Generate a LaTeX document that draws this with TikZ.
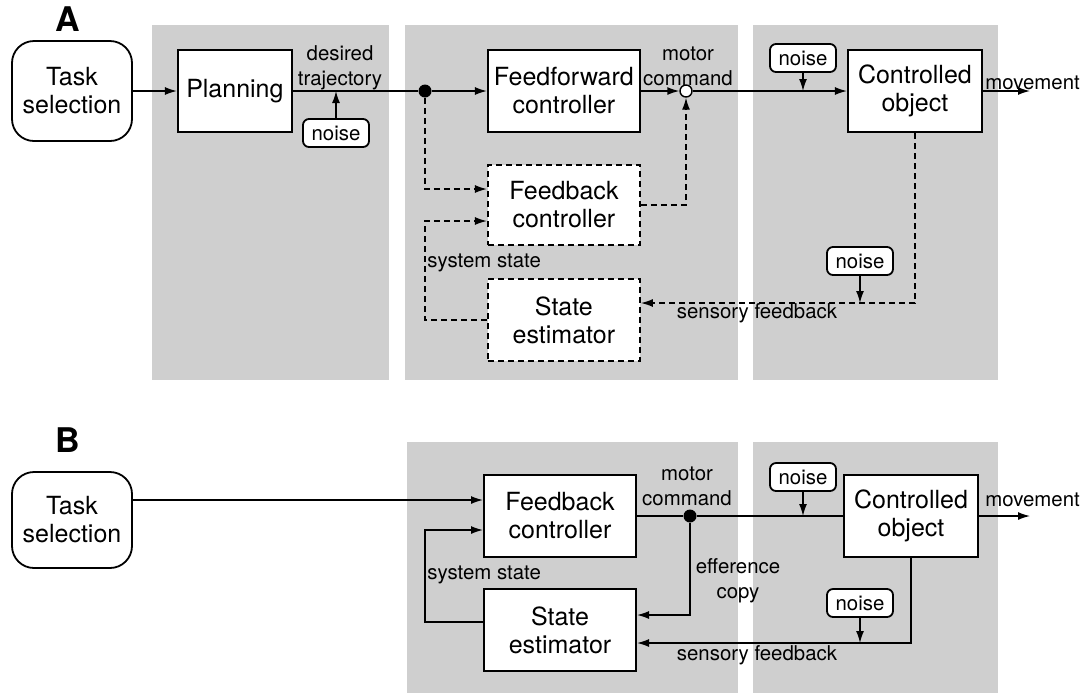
\documentclass[tikz,border=0pt]{standalone}
\usepackage{fontspec}
\setmainfont{TeX Gyre Heros}
\usetikzlibrary{positioning, arrows.meta, calc}
\definecolor{shadegray}{gray}{0.81}

\begin{document}
\begin{tikzpicture}[
  x=0.5pt, y=0.5pt,
  every node/.style={font=\fontsize{12.5}{14}\selectfont},
  blockbox/.style={
    draw, line width=1pt, fill=white, align=center, inner sep=1pt,
    minimum width=76pt, minimum height=41pt
  },
  taskbox/.style={
    draw, line width=0.9pt, fill=white, rounded corners=11pt, align=center,
    minimum width=60pt, minimum height=50pt
  },
  noisebox/.style={
    draw, line width=0.9pt, fill=white, rounded corners=3pt, inner sep=1pt,
    font=\fontsize{10.2}{12}\selectfont, minimum width=33pt, minimum height=14pt
  },
  lbl/.style={font=\fontsize{10.2}{12.4}\selectfont, align=center, inner sep=0pt},
  panel/.style={font=\fontsize{17}{19}\selectfont\bfseries, inner sep=0pt},
  shadebox/.style={fill=shadegray, draw=none},
  arr/.style={-{Latex[length=6pt, width=4pt]}, line width=0.7pt},
  wire/.style={line width=0.7pt},
  dashbox/.style={dash pattern=on 3pt off 2pt},
  dot/.style={circle, fill=black, inner sep=0pt, minimum size=6.5pt},
  odot/.style={circle, draw, fill=white, line width=0.7pt, inner sep=0pt, minimum size=6pt}
]
  \useasboundingbox (0,0) rectangle (1092,-693);

  % shaded stages
  \fill[shadebox] (152,-25) rectangle (389,-380);
  \fill[shadebox] (405,-25) rectangle (738,-380);
  \fill[shadebox] (753,-25) rectangle (998,-380);
  \fill[shadebox] (407,-442) rectangle (738,-693);
  \fill[shadebox] (753,-442) rectangle (998,-693);

  % ---------- panel A ----------
  \node[panel] (labA) at (68,-19) {A};
  \node[taskbox] (taskA) at (72,-91) {Task\\selection};
  \node[blockbox, minimum width=57pt, right=22pt of taskA] (plan) {Planning};
  \node[blockbox, right=97pt of plan] (ff) {Feedforward\\controller};
  \node[blockbox, minimum width=67pt, right=103pt of ff] (coA) {Controlled\\object};
  \node[blockbox, dashbox, minimum height=40pt, below=15.5pt of ff] (fb) {Feedback\\controller};
  \node[blockbox, dashbox, below=16pt of fb] (se) {State\\estimator};

  \node[dot] (jA) at (425,-91) {};
  \node[odot] (sumA) at (686,-91) {};
  \node[noisebox] (nzPlan) at (336,-133) {noise};
  \node[noisebox] (nzCmdA) at (803,-58) {noise};
  \node[noisebox] (nzFbA) at (860,-261) {noise};
  \coordinate (moveA) at (1030,-91);

  \node[lbl] (trajLbl) at (340,-68) {desired\\trajectory};
  \node[lbl] (cmdLblA) at (688,-66) {motor\\command};
  \node[lbl, anchor=west] (moveLblA) at (985,-83) {movement};
  \node[lbl, anchor=west] (stateLblA) at (427,-263) {system state};
  \node[lbl] (sensLblA) at (757,-313) {sensory feedback};

  \draw[arr] (taskA) -- (plan);
  \draw[wire] (plan) -- (jA);
  \draw[arr] (jA) -- (ff);
  \draw[arr] (ff) -- (sumA);
  \draw[arr] (sumA) -- (coA);
  \draw[arr] (coA) -- (moveA);
  \draw[arr] (nzPlan) -- (nzPlan |- plan);
  \draw[arr] (nzCmdA) -- (nzCmdA |- coA);

  \coordinate (fbIn1) at ($(fb.west)+(0,16)$);
  \coordinate (fbIn2) at ($(fb.west)+(0,-16)$);
  \coordinate (seIn) at ($(se.east)+(0,17)$);
  \draw[arr, dashbox] (jA) |- (fbIn1);
  \draw[arr, dashbox] (se.west) -- (jA |- se.west) |- (fbIn2);
  \draw[arr, dashbox] (fb.east) -| (sumA);
  \draw[arr, dashbox] (coA.south) |- (seIn);
  \draw[arr] (nzFbA) -- (nzFbA |- seIn);

  % ---------- panel B ----------
  \node[panel] (labB) at (68,-440) {B};
  \node[taskbox, minimum height=48pt] (taskB) at (72,-520) {Task\\selection};
  \node[blockbox] (fbB) at (560,-516) {Feedback\\controller};
  \node[blockbox, below=15pt of fbB] (seB) {State\\estimator};
  \node[blockbox, minimum width=67pt, right=103pt of fbB] (coB) {Controlled\\object};

  \node[dot] (jB) at (690,-516) {};
  \node[noisebox] (nzCmdB) at (803,-477) {noise};
  \node[noisebox] (nzFbB) at (860,-603) {noise};
  \coordinate (moveB) at (1030,-516);

  \node[lbl] (cmdLblB) at (687,-486) {motor\\command};
  \node[lbl] (effLbl) at (738,-581) {efference\\copy};
  \node[lbl, anchor=west] (moveLblB) at (985,-500) {movement};
  \node[lbl, anchor=west] (stateLblB) at (427,-575) {system state};
  \node[lbl] (sensLblB) at (757,-655) {sensory feedback};

  \coordinate (fbBIn1) at ($(fbB.west)+(0,16)$);
  \coordinate (fbBIn2) at ($(fbB.west)+(0,-14)$);
  \coordinate (seBOut) at ($(seB.west)+(0,8)$);
  \coordinate (seBIn1) at ($(seB.east)+(0,15)$);
  \coordinate (seBIn2) at ($(seB.east)+(0,-13)$);

  \draw[arr] (taskB.east |- fbBIn1) -- (fbBIn1);
  \draw[wire] (fbB) -- (jB) -- (coB);
  \draw[arr] (coB) -- (moveB);
  \draw[arr] (nzCmdB) -- (nzCmdB |- coB);
  \draw[arr] (jB) |- (seBIn1);
  \draw[arr] (seBOut) -- ++(-58,0) |- (fbBIn2);
  \draw[arr] (coB.south) |- (seBIn2);
  \draw[arr] (nzFbB) -- (nzFbB |- seBIn2);
\end{tikzpicture}
\end{document}
